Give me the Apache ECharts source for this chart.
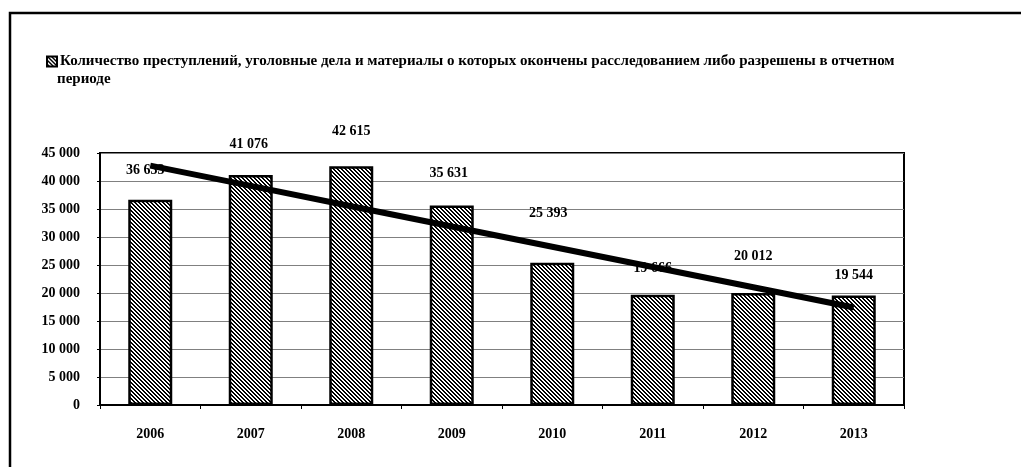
<!DOCTYPE html>
<html>
<head>
<meta charset="utf-8">
<script src="https://cdn.jsdelivr.net/npm/echarts@6/dist/echarts.min.js"></script>
<style>
html,body{margin:0;padding:0;background:#fff;}
#chart{width:1021px;height:467px;}
</style>
</head>
<body>
<div id="chart"></div>
<script>
// ---- data ----
var categories = ['2006','2007','2008','2009','2010','2011','2012','2013'];
var values = [36633, 41076, 42615, 35631, 25393, 19666, 20012, 19544];
var seriesName = 'Количество преступлений, уголовные дела и материалы о которых окончены расследованием либо разрешены в отчетном периоде';
var yTicks = [0, 5000, 10000, 15000, 20000, 25000, 30000, 35000, 40000, 45000];

// label gaps above bars (styling, as placed in the original)
var labelGap = [22, 24, 28, 25, 42, 19, 30, 13];
var labelShiftX = [-5, -2, 0, -3, -4, 0, 0, 0];

// linear trend (least squares), as an Excel trendline
function trend(vals){
  var n = vals.length, sx=0, sy=0, sxy=0, sxx=0;
  for (var i=0;i<n;i++){ var x=i+1; sx+=x; sy+=vals[i]; sxy+=x*vals[i]; sxx+=x*x; }
  var b = (n*sxy - sx*sy)/(n*sxx - sx*sx);
  var a = (sy - b*sx)/n;
  return vals.map(function(_,i){ return a + b*(i+1); });
}
var trendValues = trend(values);

function fmt(v){ return String(Math.round(v)).replace(/\B(?=(\d{3})+(?!\d))/g, ' '); }

// hatch pattern
var pc = document.createElement('canvas');
pc.width = 4; pc.height = 4;
var pctx = pc.getContext('2d');
pctx.fillStyle = '#fff'; pctx.fillRect(0,0,4,4);
pctx.fillStyle = '#000';
for (var yy=0; yy<4; yy++){ for (var xx=0; xx<4; xx++){ var d=((xx-yy)%4+4)%4; if (d<2) pctx.fillRect(xx,yy,1,1); } }
var hatch = {image: pc, repeat: 'repeat'};

var font = 'Liberation Serif';
var fs = 14;
var chart = echarts.init(document.getElementById('chart'), null, {renderer:'canvas'});

var barData = values.map(function(v,i){
  return {value: v, label: {distance: labelGap[i], offset: [labelShiftX[i], 0]}};
});

chart.setOption({
  backgroundColor: '#fff',
  animation: false,
  graphic: [
    {type:'rect', shape:{x:10, y:13, width:1030, height:480}, style:{fill:'none', stroke:'#000', lineWidth:2.5}, z:0, silent:true},
    {type:'text', left:57, top:72, style:{text:'периоде', font:'bold 15px "Liberation Serif"', fill:'#000'}}
  ],
  legend: {
    left: 41, top: 49,
    itemWidth: 10, itemHeight: 10, itemGap: 4,
    data: [{name: seriesName, icon: 'rect'}],
    formatter: function(){ return 'Количество преступлений, уголовные дела и материалы о которых окончены расследованием либо разрешены в отчетном'; },
    textStyle: {fontFamily: font, fontWeight: 'bold', fontSize: 15, color: '#000', padding:[0,0,0,-2]}
  },
  grid: {left: 100, right: 117, top: 153, bottom: 62, show: true, borderColor: '#000', borderWidth: 2, backgroundColor: 'transparent'},
  xAxis: {
    type: 'category', data: categories,
    axisLine: {lineStyle: {color: '#000', width: 2}},
    axisTick: {show: true, length: 4, lineStyle: {color: '#000'}},
    axisLabel: {fontFamily: font, fontWeight: 'bold', fontSize: fs, color: '#000', margin: 22}
  },
  yAxis: {
    type: 'value', min: yTicks[0], max: yTicks[yTicks.length-1], interval: yTicks[1]-yTicks[0],
    axisLine: {show: true, lineStyle: {color: '#000', width: 2}},
    axisTick: {show: true, length: 3, lineStyle: {color: '#000'}},
    splitLine: {lineStyle: {color: '#808080', width: 1}},
    axisLabel: {fontFamily: font, fontWeight: 'bold', fontSize: fs, color: '#000', margin: 20, formatter: fmt}
  },
  series: [
    {
      name: seriesName, type: 'bar', data: barData, barWidth: 44, z: 2,
      itemStyle: {color: hatch, borderColor: '#000', borderWidth: 2.5},
      label: {show: true, position: 'top', fontFamily: font, fontWeight: 'bold', fontSize: fs, color: '#000', formatter: function(p){ return fmt(p.value); }}
    },
    {
      name: 'trend', type: 'line', data: trendValues, z: 10, symbol: 'none',
      lineStyle: {color: '#000', width: 6, cap: 'butt'}, silent: true
    }
  ]
});
</script>
</body>
</html>
